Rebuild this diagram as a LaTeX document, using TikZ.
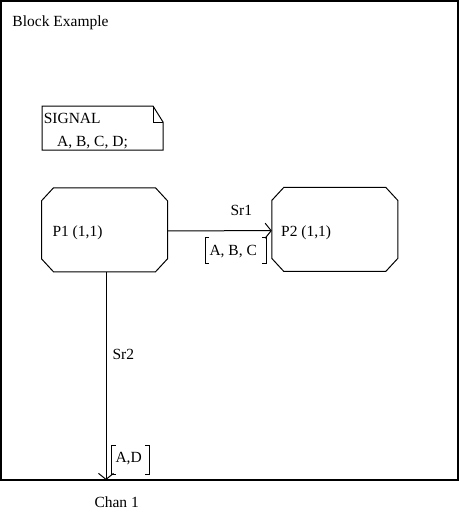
\documentclass[tikz,border=0pt]{standalone}
\usepackage{fontspec}
\setmainfont{Liberation Serif}
\usetikzlibrary{arrows.meta}
\begin{document}
\begin{tikzpicture}[x=1pt,y=-1pt,line width=1pt,
  txt/.style={inner sep=0pt,anchor=base west,font=\fontsize{15.5}{18}\selectfont},
  procbox/.style={draw=none,inner sep=0pt,minimum width=125pt,minimum height=83pt},
  sigline/.style={-{Straight Barb[length=6pt,width=15pt,line width=1pt]}}]
\useasboundingbox (0,0) rectangle (459,517);
% frame
\node[draw,inner sep=0pt,minimum width=457pt,minimum height=479pt,line width=1.1pt] (frame) at (229.5,240.5) {};
\node[txt] (title) at (12,26) {Block Example};
% signal declaration
\coordinate (sigTL) at (42,106);
\draw (sigTL) -- (153,106) -- (163,122) -- (163,150) -- (42,150) -- cycle;
\draw (153,106) -- (153,122) -- (163,122);
\node[txt] (sig1) at (43.3,123.3) {SIGNAL};
\node[txt] (sig2) at (56.7,146) {A, B, C, D;};
% processes
\node[procbox] (p1) at (104.5,229.8) {};
\node[procbox] (p2) at (334.8,229.4) {};
\foreach \p in {p1,p2}{
  \draw ([xshift=12pt]\p.north west) -- ([xshift=-12pt]\p.north east)
    -- ([yshift=-13pt]\p.north east) -- ([yshift=13pt]\p.south east)
    -- ([xshift=-12pt]\p.south east) -- ([xshift=12pt]\p.south west)
    -- ([yshift=13pt]\p.south west) -- ([yshift=-13pt]\p.north west) -- cycle;
}
\node[txt] (p1t) at (52,236) {P1 (1,1)};
\node[txt] (p2t) at (280.7,236) {P2 (1,1)};
% Sr1
\draw[sigline] ([yshift=-1pt]p1.east) -- ([yshift=-1.3pt]p2.west);
\node[txt] (sr1) at (230,215) {Sr1};
\node[txt] (l1) at (209,255) {A, B, C};
\draw (209,237) -- (205,237) -- (205,263) -- (209,263);
\draw (262,237) -- (266,237) -- (266,263) -- (262,263);
% Sr2
\coordinate (chan) at (106,480);
\draw[sigline] (p1.south -| chan) -- (chan);
\node[txt] (sr2) at (112,359) {Sr2};
\node[txt] (l2) at (115,462) {A,D};
\draw (115.5,445) -- (111.7,445) -- (111.7,474) -- (115.5,474);
\draw (145,445) -- (149,445) -- (149,474) -- (145,474);
\node[txt] (chant) at (94,507) {Chan 1};
\end{tikzpicture}
\end{document}
